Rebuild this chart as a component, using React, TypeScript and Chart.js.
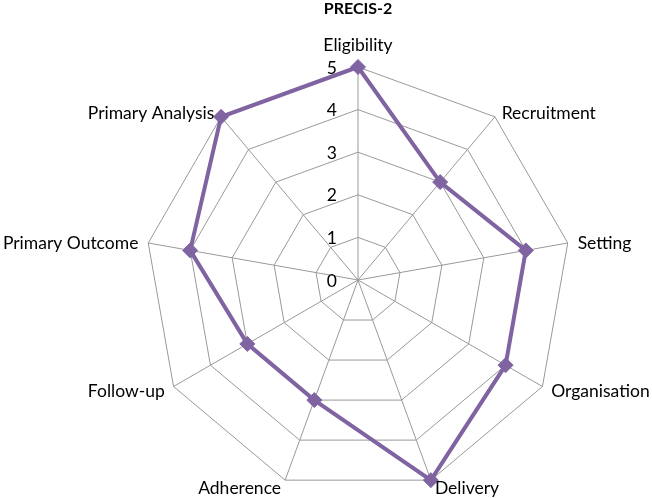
import React, { useEffect, useRef } from "react";
import { Chart, registerables } from "chart.js";

Chart.register(...registerables);

const categories = [
  "Eligibility",
  "Recruitment",
  "Setting",
  "Organisation",
  "Delivery",
  "Adherence",
  "Follow-up",
  "Primary Outcome",
  "Primary Analysis",
];
const scores = [5, 3, 4, 4, 5, 3, 3, 4, 5];
const tickValues = [0, 1, 2, 3, 4, 5];
const chartTitle = "PRECIS-2";

const FONT = "Lato, 'Open Sans', sans-serif";
const LABEL_SIZE = 17.5;

const labelsPlugin = {
  id: "excelLabels",
  afterDraw(chart: any) {
    const scale = chart.scales.r;
    if (!scale) return;
    const ctx = chart.ctx;
    ctx.save();
    ctx.fillStyle = "#000";
    ctx.font = `${LABEL_SIZE}px ${FONT}`;
    // tick labels, right-aligned left of the vertical axis
    ctx.textAlign = "right";
    ctx.textBaseline = "middle";
    scale.ticks.forEach((t: any) => {
      if (!tickValues.includes(t.value)) return;
      const p = scale.getPointPositionForValue(0, t.value);
      ctx.fillText(String(t.value), scale.xCenter - 21, p.y + 1);
    });
    // category labels
    const n = chart.data.labels.length;
    for (let i = 0; i < n; i++) {
      const pos = scale.getPointPosition(i, scale.drawingArea);
      const a = (i * 2 * Math.PI) / n;
      const s = Math.sin(a);
      const c = Math.cos(a);
      const label = chart.data.labels[i];
      if (i === 0) {
        ctx.textAlign = "center";
        ctx.fillText(label, pos.x, pos.y - 22);
        continue;
      }
      ctx.textAlign = s > 0 ? "left" : "right";
      const x = pos.x + s * 9 + Math.sign(s) * 1;
      const y = pos.y - c * 7 + 1.5;
      ctx.fillText(label, x, y);
    }
    ctx.restore();
  },
};

export default function App() {
  const ref = useRef<HTMLCanvasElement | null>(null);
  useEffect(() => {
    if (!ref.current) return;
    const chart = new Chart(ref.current, {
      type: "radar",
      data: {
        labels: categories,
        datasets: [
          {
            data: scores,
            borderColor: "#8064A2",
            backgroundColor: "#8064A2",
            borderWidth: 4,
            fill: false,
            pointStyle: "rectRot",
            pointRadius: 7.5,
            pointBackgroundColor: "#8064A2",
            pointBorderColor: "#8064A2",
            pointBorderWidth: 1,
          },
        ],
      },
      options: {
        animation: false,
        responsive: false,
        layout: { padding: { left: 64, right: 0, top: 0, bottom: 5 } },
        plugins: {
          legend: { display: false },
          tooltip: { enabled: false },
          title: {
            display: true,
            text: chartTitle,
            color: "#000",
            font: { family: FONT, size: 16, weight: "bold", lineHeight: 1.125 },
            padding: { top: 0, bottom: 49 },
          },
        },
        scales: {
          r: {
            min: 0,
            max: 5,
            ticks: { display: false, stepSize: 1 },
            pointLabels: { display: false },
            grid: { color: "#999999", lineWidth: 1 },
            angleLines: { color: "#999999", lineWidth: 1 },
          },
        },
      },
      plugins: [labelsPlugin],
    });
    return () => chart.destroy();
  }, []);
  return (
    <div style={{ position: "fixed", left: 0, top: 0, width: 652, height: 498, background: "#fff" }}>
      <canvas ref={ref} width={652} height={498} style={{ display: "block" }} />
    </div>
  );
}
